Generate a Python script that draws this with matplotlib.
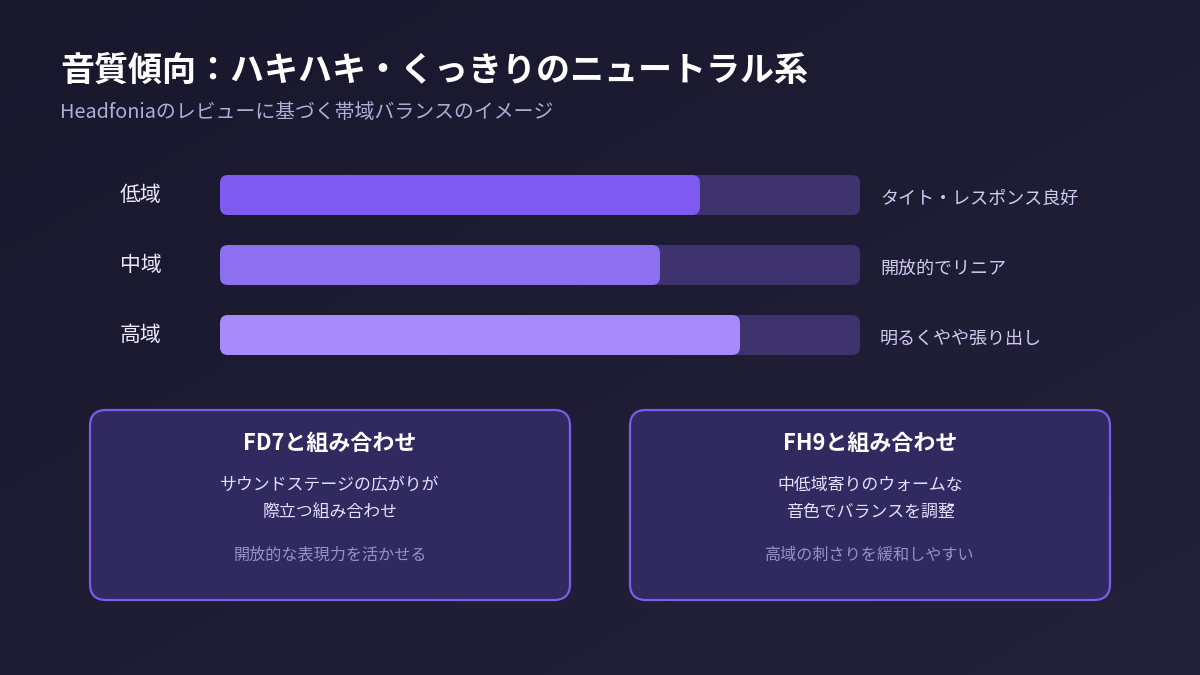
import numpy as np
import matplotlib
matplotlib.use("Agg")
import matplotlib.pyplot as plt
from matplotlib.patches import FancyBboxPatch
from matplotlib.colors import LinearSegmentedColormap
import matplotlib.transforms as mtransforms

plt.rcParams['font.family'] = ['Noto Sans CJK JP', 'DejaVu Sans']

# ---- data ----
title = "音質傾向：ハキハキ・くっきりのニュートラル系"
subtitle = "Headfoniaのレビューに基づく帯域バランスのイメージ"
bands = ["低域", "中域", "高域"]
values = [75.0, 68.75, 81.25]
notes = ["タイト・レスポンス良好", "開放的でリニア", "明るくやや張り出し"]
bar_colors = ["#7f5af0", "#8c70ef", "#a78bfa"]
card_titles = ["FD7と組み合わせ", "FH9と組み合わせ"]
card_bodies = ["サウンドステージの広がりが\n際立つ組み合わせ", "中低域寄りのウォームな\n音色でバランスを調整"]
card_notes = ["開放的な表現力を活かせる", "高域の刺さりを緩和しやすい"]

W, H = 1200, 675
fig = plt.figure(figsize=(12, 6.75), dpi=100)

# background gradient
bg = fig.add_axes([0, 0, 1, 1])
bg.set_axis_off()
yy, xx = np.mgrid[0:1:200j, 0:1:200j]
grad = (xx + yy) / 2
cmap = LinearSegmentedColormap.from_list("bg", ["#18172c", "#24223b"])
bg.imshow(grad, cmap=cmap, extent=[0, W, H, 0], aspect='auto', zorder=0)
bg.set_xlim(0, W)
bg.set_ylim(H, 0)

# titles
bg.text(60, 70, title, fontsize=24.5, fontweight='bold', color='#ffffff',
        va='center', ha='left')
bg.text(60, 112, subtitle, fontsize=14.3, color='#b4acd8', va='center', ha='left')

# cards
card_x = [90, 630]
for i in range(2):
    x0 = card_x[i]
    box = FancyBboxPatch((x0, 410), 480, 190,
                         boxstyle="round,pad=0,rounding_size=16",
                         facecolor='#302a60', edgecolor='#7c5ce8', linewidth=1.6,
                         zorder=2)
    bg.add_patch(box)
    cx = x0 + 240
    bg.text(cx, 443, card_titles[i], fontsize=15.8, fontweight='bold',
            color='#ffffff', ha='center', va='center', zorder=3)
    bg.text(cx, 498, card_bodies[i], fontsize=12.2, color='#e6e0ff',
            ha='center', va='center', linespacing=1.65, zorder=3)
    bg.text(cx, 555, card_notes[i], fontsize=11.6, color='#9a91c6',
            ha='center', va='center', zorder=3)

# bars axes: pixel 220..860 in x, rows at 195, 265, 335
row_step = 70
ax_left = 220
ax_w = 640
y_top = 160  # pixel top of axes
n = len(bands)
ax_h = row_step * n
ax = fig.add_axes([ax_left / W, 1 - (y_top + ax_h) / H, ax_w / W, ax_h / H])
ax.set_xlim(0, 100)
ax.set_ylim(n - 0.5, -0.5)
ax.set_axis_off()
ax.patch.set_alpha(0)

bar_h = 40 / row_step
ypos = np.arange(n)
track = ax.barh(ypos, [100] * n, height=bar_h)
bars = ax.barh(ypos, values, height=bar_h)

x_per_px = 100 / ax_w
y_per_px = 1 / row_step
aspect = y_per_px / x_per_px
r = 8 * x_per_px
for rects, colors, z in [(track, ['#3e336e'] * n, 2), (bars, bar_colors, 3)]:
    for rect, c in zip(rects, colors):
        x, y = rect.get_x(), rect.get_y()
        w, h = rect.get_width(), rect.get_height()
        rect.set_visible(False)
        p = FancyBboxPatch((x, y), w, h,
                           boxstyle=f"round,pad=0,rounding_size={r}",
                           mutation_aspect=aspect, facecolor=c,
                           edgecolor='none', zorder=z)
        ax.add_patch(p)

trans_left = mtransforms.blended_transform_factory(ax.transAxes, ax.transData)
for i in range(n):
    ax.text(-100 / ax_w, ypos[i] - 0.0, bands[i], transform=trans_left,
            fontsize=15, color='#ece8ff', ha='left', va='center')
    ax.text(1 + 20 / ax_w, ypos[i] + 0.06, notes[i], transform=trans_left,
            fontsize=13, color='#d2caf2', ha='left', va='center')

fig.savefig("out.png", dpi=100)
